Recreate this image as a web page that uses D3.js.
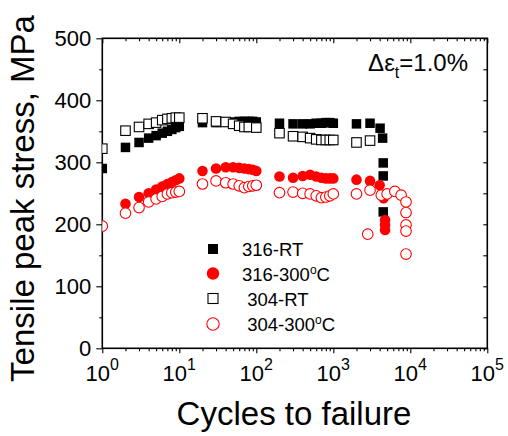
<!DOCTYPE html>
<html>
<head>
<meta charset="utf-8">
<script src="https://cdnjs.cloudflare.com/ajax/libs/d3/7.8.5/d3.min.js"></script>
<style>
  html, body { margin: 0; padding: 0; background: #fff; }
  svg { display: block; font-family: Arial, "Liberation Sans", sans-serif; }
</style>
</head>
<body>
<div class="chart"></div>
<script>
// cycles / tensile peak stress (MPa)
var series316RT = [[1,290],[2,324],[3,332],[4,339],[5,343],[6,347],[7,350],[8,353],[9,356],[10,358],
	[20,364],[30,364],[40,365],[50,365],[60,366],[70,366],[80,366],[90,366],[100,365],
	[200,363],[300,362],[400,362],[500,362],[600,363],[700,363],[800,364],[900,364],[1000,363],
	[2000,362],[3000,363],[4050,355],[4370,339],[4450,299],[4450,278],[4450,220]];

var series316HT = [[2,233],[3,244],[4,250],[5,256],[6,261],[7,265],[8,268],[9,271],[10,274],
	[20,286],[30,290],[40,292],[50,292],[60,291],[70,290],[80,289],[90,288],[100,286],
	[200,277],[300,275],[400,278],[500,280],[600,277],[700,275],[800,274],[900,274],[1000,274],
	[2000,272],[3000,270],[4000,263],[4500,242],[4700,207],[4700,199],[4700,191]];

var series304RT = [[1,322],[2,351],[3,357],[4,362],[5,364],[6,368],[7,370],[8,371],[9,372],[10,372],
	[20,371],[30,366],[40,365],[50,362],[60,359],[70,357],[80,357],[100,356],
	[200,347],[300,342],[400,341],[500,339],[600,337],[700,336],[800,336],[900,336],[1000,336],
	[2000,332],[3000,335]];

var series304HT = [[1,197],[2,218],[3,227],[4,236],[5,241],[6,245],[7,249],[8,251],[9,252],[10,253],
	[20,265],[30,270],[40,267],[50,265],[60,262],[70,259],[80,261],[90,262],[100,263],
	[200,251],[300,252],[400,250],[500,249],[600,246],[700,243],[800,244],[900,246],[1000,249],
	[2000,249],[2800,184],[3000,255],[4200,247],[5000,249],[6300,253],[7600,247],
	[8800,236],[8800,219],[8800,199],[8800,189],[8800,152]];

var xMajor = [1, 10, 100, 1000, 10000, 100000];
var xExp = ["0", "1", "2", "3", "4", "5"];
var yMajor = [0, 100, 200, 300, 400, 500];
var yMinor = [50, 150, 250, 350, 450];
var legendLabels = ["316-RT", "316-300", " 304-RT", " 304-300"];

var width = 508, height = 436;
var pLeft = 102.3, pRight = 487.3, pTop = 38.3, pBottom = 348.3;

var svg = d3.select(".chart").append("svg")
	.attr("width", width)
	.attr("height", height);

var x = d3.scaleLog().domain([1, 100000]).range([pLeft, pRight]);
var y = d3.scaleLinear().domain([0, 500]).range([pBottom, pTop]);

var xMinor = [];
xMajor.slice(0, -1).forEach(function(d) {
	for (var k = 2; k <= 9; k++) xMinor.push(d * k);
});

// ----------------------------------------------------------
// axes (left + bottom ticks outward, top + right inward)

function tickStyle(g) {
	g.select(".domain").remove();
	g.selectAll("line").attr("stroke", "#000").attr("stroke-width", 1.1);
}

svg.append("g").attr("transform", "translate(0," + pBottom + ")")
	.call(d3.axisBottom(x).tickValues(xMajor).tickSize(5).tickFormat("")).call(tickStyle);
svg.append("g").attr("transform", "translate(0," + pBottom + ")")
	.call(d3.axisBottom(x).tickValues(xMinor).tickSize(3).tickFormat("")).call(tickStyle);
svg.append("g").attr("transform", "translate(0," + pTop + ")")
	.call(d3.axisBottom(x).tickValues(xMajor).tickSize(5).tickFormat("")).call(tickStyle);
svg.append("g").attr("transform", "translate(0," + pTop + ")")
	.call(d3.axisBottom(x).tickValues(xMinor).tickSize(3).tickFormat("")).call(tickStyle);

svg.append("g").attr("transform", "translate(" + pLeft + ",0)")
	.call(d3.axisLeft(y).tickValues(yMajor).tickSize(6).tickFormat("")).call(tickStyle);
svg.append("g").attr("transform", "translate(" + pLeft + ",0)")
	.call(d3.axisLeft(y).tickValues(yMinor).tickSize(3).tickFormat("")).call(tickStyle);
svg.append("g").attr("transform", "translate(" + pRight + ",0)")
	.call(d3.axisLeft(y).tickValues(yMajor.concat(yMinor)).tickSize(4).tickFormat("")).call(tickStyle);

svg.append("rect")
	.attr("x", pLeft).attr("y", pTop)
	.attr("width", pRight - pLeft).attr("height", pBottom - pTop)
	.attr("fill", "none")
	.attr("stroke", "#000")
	.attr("stroke-width", 1.6);

// tick labels
svg.selectAll(".ylab").data(yMajor).enter().append("text")
	.attr("class", "ylab")
	.attr("x", pLeft - 11)
	.attr("y", function(d) { return y(d) + 7.5; })
	.attr("text-anchor", "end")
	.attr("font-size", 22)
	.text(function(d) { return d; });

var xl = svg.selectAll(".xlab").data(xMajor).enter().append("text")
	.attr("class", "xlab")
	.attr("x", function(d) { return x(d); })
	.attr("y", pBottom + 33)
	.attr("text-anchor", "middle")
	.attr("font-size", 22);
xl.append("tspan").text("10");
xl.append("tspan").attr("dy", -11).attr("font-size", 16).text(function(d, i) { return xExp[i]; });

// axis titles
svg.append("text")
	.attr("x", 294)
	.attr("y", 425)
	.attr("text-anchor", "middle")
	.attr("font-size", 33)
	.text("Cycles to failure");

svg.append("text")
	.attr("transform", "translate(34," + 198.5 + ") rotate(-90)")
	.attr("text-anchor", "middle")
	.attr("font-size", 33)
	.text("Tensile peak stress, MPa");

// strain amplitude note
var note = svg.append("text")
	.attr("x", 468)
	.attr("y", 71)
	.attr("text-anchor", "end")
	.attr("font-size", 24);
note.append("tspan").text("\u0394\u03b5");
note.append("tspan").attr("dy", 7).attr("font-size", 16).text("t");
note.append("tspan").attr("dy", -7).text("=1.0%");

// ----------------------------------------------------------
// markers

svg.append("clipPath").attr("id", "plotclip")
	.append("rect")
	.attr("x", pLeft).attr("y", pTop)
	.attr("width", pRight - pLeft).attr("height", pBottom - pTop);

var plot = svg.append("g").attr("clip-path", "url(#plotclip)");
var sq = 9.5, rad = 5.3;

function squares(data, fill, stroke) {
	plot.append("g").selectAll("rect").data(data).enter().append("rect")
		.attr("x", function(d) { return x(d[0]) - sq / 2; })
		.attr("y", function(d) { return y(d[1]) - sq / 2; })
		.attr("width", sq).attr("height", sq)
		.attr("fill", fill)
		.attr("stroke", stroke)
		.attr("stroke-width", stroke == "none" ? 0 : 1.1);
}

function circles(data, fill, stroke) {
	plot.append("g").selectAll("circle").data(data).enter().append("circle")
		.attr("cx", function(d) { return x(d[0]); })
		.attr("cy", function(d) { return y(d[1]); })
		.attr("r", rad)
		.attr("fill", fill)
		.attr("stroke", stroke)
		.attr("stroke-width", stroke == "none" ? 0 : 1.1);
}

squares(series316RT, "#000", "none");
circles(series316HT, "#ff0000", "none");
squares(series304RT, "#fff", "#000");
circles(series304HT, "#fff", "#ff0000");

// ----------------------------------------------------------
// legend

var legendY = [249, 273.5, 298.5, 324];
var lx = 213;
svg.append("rect").attr("x", lx - 5).attr("y", legendY[0] - 5).attr("width", 10).attr("height", 10).attr("fill", "#000");
svg.append("circle").attr("cx", lx).attr("cy", legendY[1]).attr("r", 6.2).attr("fill", "#ff0000");
svg.append("rect").attr("x", lx - 5).attr("y", legendY[2] - 5).attr("width", 10).attr("height", 10)
	.attr("fill", "#fff").attr("stroke", "#000").attr("stroke-width", 1.1);
svg.append("circle").attr("cx", lx).attr("cy", legendY[3]).attr("r", 6.2)
	.attr("fill", "#fff").attr("stroke", "#ff0000").attr("stroke-width", 1.1);

legendLabels.forEach(function(lab, i) {
	var t = svg.append("text")
		.attr("x", 242)
		.attr("y", legendY[i] + 7)
		.attr("font-size", 18.5)
		.attr("xml:space", "preserve")
		.style("white-space", "pre");
	t.append("tspan").text(lab);
	if (lab.indexOf("300") >= 0) {
		t.append("tspan").attr("dy", -7).attr("font-size", 12).text("o");
		t.append("tspan").attr("dy", 7).text("C");
	}
});
</script>
</body>
</html>
